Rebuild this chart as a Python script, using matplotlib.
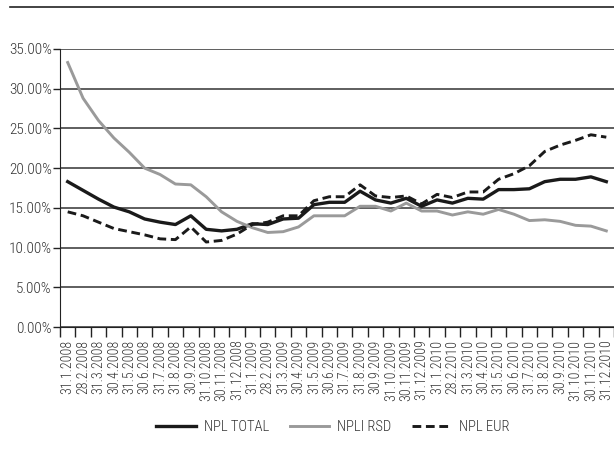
import matplotlib
matplotlib.use("Agg")
from matplotlib import pyplot as plt
from matplotlib.lines import Line2D
from matplotlib.ticker import FuncFormatter

plt.rcParams['font.family'] = ['Roboto Condensed', 'PT Sans Narrow', 'DejaVu Sans']
plt.rcParams['font.weight'] = 'light'

dates = ["31.1.2008", "28.2.2008", "31.3.2008", "30.4.2008", "31.5.2008", "30.6.2008",
         "31.7.2008", "31.8.2008", "30.9.2008", "31.10.2008", "30.11.2008", "31.12.2008",
         "31.1.2009", "28.2.2009", "31.3.2009", "30.4.2009", "31.5.2009", "30.6.2009",
         "31.7.2009", "31.8.2009", "30.9.2009", "31.10.2009", "30.11.2009", "31.12.2009",
         "31.1.2010", "28.2.2010", "31.3.2010", "30.4.2010", "31.5.2010", "30.6.2010",
         "31.7.2010", "31.8.2010", "30.9.2010", "31.10.2010", "30.11.2010", "31.12.2010"]

npl_total = [18.3, 17.2, 16.1, 15.1, 14.5, 13.6, 13.2, 12.9, 14.0, 12.3, 12.1, 12.3,
             13.0, 12.9, 13.6, 13.7, 15.4, 15.7, 15.7, 17.1, 16.0, 15.6, 16.2, 15.2,
             16.0, 15.6, 16.2, 16.1, 17.3, 17.3, 17.4, 18.3, 18.6, 18.6, 18.9, 18.3]

npl_rsd = [33.3, 28.8, 26.0, 23.8, 22.0, 20.0, 19.2, 18.0, 17.9, 16.4, 14.5, 13.3,
           12.5, 11.9, 12.0, 12.6, 14.0, 14.0, 14.0, 15.2, 15.2, 14.6, 15.6, 14.6,
           14.6, 14.1, 14.5, 14.2, 14.8, 14.2, 13.4, 13.5, 13.3, 12.8, 12.7, 12.1]

npl_eur = [14.5, 14.0, 13.2, 12.4, 12.0, 11.6, 11.1, 11.0, 12.6, 10.7, 10.9, 11.7,
           12.9, 13.2, 14.0, 14.0, 15.9, 16.4, 16.4, 17.9, 16.5, 16.3, 16.5, 15.5,
           16.7, 16.3, 17.0, 17.0, 18.6, 19.3, 20.3, 22.1, 22.9, 23.5, 24.2, 23.9]

labels = ["NPL TOTAL", "NPLI RSD", "NPL EUR"]

fig = plt.figure(figsize=(6.14, 4.65), dpi=100)
ax = fig.add_axes([60/614, 1 - 327/465, 554/614, 278/465])

x = list(range(len(dates)))
ax.plot(x, npl_total, color="#1a1a1a", lw=2.4, label=labels[0])
ax.plot(x, npl_rsd, color="#9a9a9a", lw=2.1, label=labels[1])
ax.plot(x, npl_eur, color="#1a1a1a", lw=2.1, ls=(0, (3, 1.6)), label=labels[2])

ax.set_xlim(-0.5, len(dates) - 0.5)
ax.set_ylim(0, 35)
ax.set_yticks([0, 5, 10, 15, 20, 25, 30, 35])
ax.yaxis.set_major_formatter(FuncFormatter(lambda v, p: "{:.2f}%".format(v)))
ax.grid(axis="y", color="#333333", lw=1.1)
ax.set_axisbelow(True)

ax.set_xticks(x)
ax.set_xticklabels(dates, rotation=90, fontsize=10, color="#333333")
ax.set_xticks([i - 0.5 for i in range(len(dates) + 1)], minor=True)
ax.tick_params(axis="x", which="major", length=0, pad=9)
ax.tick_params(axis="x", which="minor", length=7, width=1, color="#222222", direction="out")
ax.tick_params(axis="y", length=5, width=1, color="#222222", labelsize=11, labelcolor="#333333", pad=1)

for s in ["top", "right"]:
    ax.spines[s].set_visible(False)
ax.spines["left"].set_color("#222222")
ax.spines["bottom"].set_color("#222222")

# border line at top of the chart
fig.add_artist(Line2D([10/614, 1.0], [1 - 7/465, 1 - 7/465], color="#222222", lw=1.2))

leg = fig.legend(loc="center", bbox_to_anchor=(333/614, 1 - 427/465), ncol=3, frameon=False,
                 fontsize=10.5, handlelength=2.7, columnspacing=1.4, handletextpad=0.55)
for t in leg.get_texts():
    t.set_color("#333333")

fig.savefig("out.png", dpi=100)
